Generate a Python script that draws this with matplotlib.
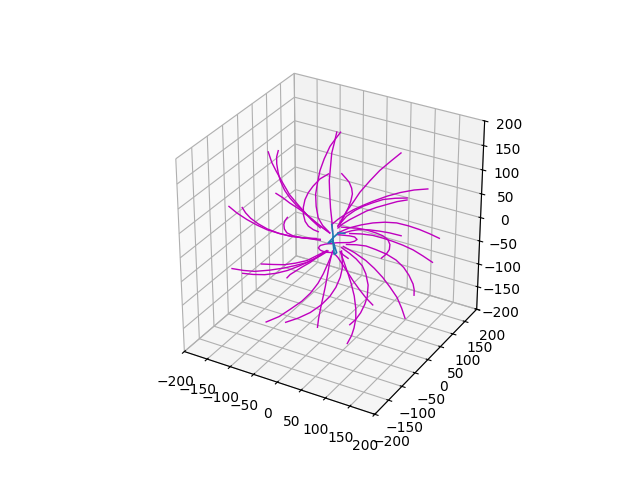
import matplotlib
matplotlib.use("Agg")
import matplotlib.pyplot as plt

# trajectories: each is (x values, y values, z values)
traj_a1 = ([12, 3, -5, -14, -21, -25, -28, -27, -24, -17, -8], [6, 2, -2, -7, -10, -12, -14, -14, -12, -8, -4], [215, 200, 186, 161, 137, 113, 88, 64, 40, 24, 13])
traj_a2 = ([6, 2, -2, -4, -6, -5, -4, -2, -1], [3, 1, -1, -2, -3, -3, -2, -1, 0], [215, 193, 173, 145, 117, 89, 61, 37, 13])
traj_b = ([-103, -98, -91, -81, -70, -56, -43, -29, -16, -5], [-52, -49, -46, -41, -35, -28, -21, -15, -8, -3], [172, 151, 134, 111, 86, 65, 46, 31, 19, 10])
traj_c = ([-87, -90, -90, -88, -85, -78, -70, -60, -48, -35, -21], [-44, -45, -45, -44, -42, -39, -35, -30, -24, -17, -10], [175, 162, 148, 131, 114, 95, 80, 66, 53, 35, 19])
traj_d = ([-7, -21, -32, -40, -45, -48, -48, -45, -40, -32, -24], [-4, -10, -16, -20, -23, -24, -24, -23, -20, -16, -12], [131, 120, 105, 91, 77, 61, 46, 32, 22, 15, 11])
traj_e = ([-92, -81, -70, -56, -43, -32, -21, -5], [-46, -40, -35, -28, -21, -16, -10, -3], [88, 79, 69, 58, 46, 35, 23, 9])
traj_f = ([108, 93, 75, 59, 43, 33, 22, 14, 8], [54, 46, 37, 30, 22, 16, 11, 7, 4], [177, 161, 141, 119, 95, 75, 55, 38, 24])
traj_g = ([14, 21, 26, 30, 31, 29, 25, 18, 11], [7, 10, 13, 15, 16, 14, 12, 9, 6], [132, 123, 115, 103, 91, 77, 63, 45, 27])
traj_h = ([152, 130, 108, 87, 65, 49, 33, 19, 8, -2], [76, 65, 54, 43, 32, 24, 16, 10, 4, -1], [106, 103, 97, 89, 78, 69, 59, 48, 38, 27])
traj_i = ([119, 100, 81, 65, 49, 35, 22, 8], [60, 50, 40, 32, 24, 18, 11, 4], [86, 85, 82, 75, 67, 57, 45, 24])
traj_j = ([119, 103, 87, 70, 54, 41, 27, 16, 8], [60, 52, 43, 35, 27, 20, 14, 8, 4], [82, 78, 72, 65, 57, 48, 38, 29, 20])
traj_k = ([173, 157, 140, 122, 103, 84, 65, 46, 27, 8], [86, 78, 70, 61, 52, 42, 32, 23, 14, 4], [5, 14, 22, 29, 34, 35, 33, 28, 21, 10])
traj_l = ([111, 92, 76, 60, 43, 30, 17], [55, 46, 38, 30, 22, 15, 8], [8, 13, 16, 18, 18, 15, 10])
traj_m = ([-169, -156, -140, -123, -107, -88, -70, -45, -21], [-84, -78, -70, -62, -54, -44, -35, -23, -10], [58, 45, 32, 21, 12, 5, 0, -3, -5])
traj_n = ([-147, -142, -134, -122, -107, -88, -70, -48, -27], [-74, -71, -67, -61, -54, -44, -35, -24, -14], [57, 46, 35, 24, 14, 5, 0, -3, -3])
traj_o = ([-74, -78, -80, -79, -75, -65, -54, -37, -21], [-37, -39, -40, -40, -38, -33, -27, -19, -10], [39, 32, 24, 15, 7, 1, -2, -4, -7])
traj_p = ([79, 87, 92, 93, 89, 81, 70, 54, 38, 14], [40, 44, 46, 46, 45, 40, 35, 27, 19, 7], [-41, -32, -22, -11, -1, 7, 12, 18, 21, 22])
traj_q = ([163, 147, 131, 114, 97, 81, 65, 46, 27], [81, 73, 65, 57, 48, 40, 32, 23, 14], [-46, -33, -21, -12, -4, 2, 7, 9, 9])
traj_r = ([134, 134, 132, 125, 116, 103, 87, 70, 54, 38, 22], [67, 67, 66, 62, 58, 52, 44, 35, 27, 19, 11], [-118, -106, -94, -75, -59, -44, -32, -23, -16, -14, -14])
traj_s = ([120, 114, 106, 94, 82, 68, 54, 35, 17], [60, 57, 53, 47, 41, 34, 27, 18, 8], [-169, -147, -124, -102, -82, -63, -47, -31, -18])
traj_t = ([66, 55, 44, 33, 22, 15, 8, 1], [33, 27, 22, 16, 11, 8, 4, 0], [-142, -127, -110, -90, -69, -56, -42, -32])
traj_u = ([28, 38, 46, 53, 57, 58, 54, 48, 38, 27, 14], [14, 19, 23, 26, 28, 29, 27, 24, 19, 14, 7], [-187, -175, -160, -141, -124, -99, -75, -58, -44, -33, -21])
traj_v = ([24, 31, 35, 38, 38, 35, 30, 25, 19, 12], [12, 16, 18, 19, 19, 18, 15, 12, 10, 6], [-229, -211, -194, -173, -152, -124, -97, -76, -56, -30])
traj_w = ([-26, -24, -21, -17, -13, -9, -6, -3, -1], [-13, -12, -10, -8, -6, -5, -3, -1, 0], [-195, -175, -154, -130, -106, -81, -57, -39, -29])
traj_x = ([-79, -58, -38, -20, -5, 5, 12, 15, 15, 14], [-40, -29, -19, -10, -3, 2, 6, 8, 8, 7], [-186, -176, -163, -146, -126, -106, -84, -66, -49, -28])
traj_y = ([-112, -90, -71, -52, -37, -25, -16, -9, -2], [-56, -45, -35, -26, -19, -12, -8, -4, -1], [-187, -174, -157, -139, -120, -99, -78, -57, -36])
traj_z = ([-167, -148, -129, -105, -80, -62, -43, -27, -10], [-83, -74, -65, -52, -40, -31, -21, -13, -5], [-73, -76, -77, -74, -68, -62, -55, -44, -29])
traj_aa = ([-149, -132, -113, -94, -75, -56, -37, -21, -8], [-75, -66, -56, -47, -38, -28, -19, -10, -4], [-82, -84, -84, -80, -73, -63, -51, -40, -29])
traj_ab = ([-118, -99, -80, -62, -43, -27, -10], [-59, -50, -40, -31, -21, -13, -5], [-61, -61, -61, -57, -51, -40, -28])
traj_ac = ([-76, -71, -64, -51, -37, -27, -16], [-38, -35, -32, -25, -19, -13, -8], [-89, -82, -76, -65, -54, -44, -33])
traj_loop = ([1, -13, -21, -24, -21, -13, 6, 27, 35, 39, 35, 27, 8], [0, -6, -10, -12, -10, -6, 3, 14, 18, 20, 18, 14, 4], [-32, -32, -28, -23, -18, -15, -11, -10, -7, -3, 2, 4, 6])
traj_stub = ([12, 17, 25], [6, 8, 12], [-30, -36, -43])

magenta_trajs = [traj_a1, traj_a2, traj_b, traj_c, traj_d, traj_e, traj_f, traj_g, traj_h, traj_i,
                 traj_j, traj_k, traj_l, traj_m, traj_n, traj_o, traj_p, traj_q, traj_r, traj_s,
                 traj_t, traj_u, traj_v, traj_w, traj_x, traj_y, traj_z, traj_aa, traj_ab, traj_ac,
                 traj_loop, traj_stub]

core_x = [-2, 0, 0, 2, 6, 0, -8, 0, 9, 19]
core_y = [-1, 0, 0, 1, 3, 0, -4, 0, 4, 10]
core_z = [27, 6, -8, -36, -32, -8, -12, -1, 10, 9]

limit_ticks = [-200, -150, -100, -50, 0, 50, 100, 150, 200]

fig = plt.figure(figsize=(6.4, 4.8), dpi=100)
ax = fig.add_subplot(projection="3d")
for tx, ty, tz in magenta_trajs:
    ax.plot(tx, ty, tz, color="m", linewidth=1.0)
ax.plot(core_x, core_y, core_z, color="tab:blue", linewidth=1.2)
ax.set_xlim(-200, 200)
ax.set_ylim(-200, 200)
ax.set_zlim(-200, 200)
ax.set_xticks(limit_ticks)
ax.set_yticks(limit_ticks)
ax.set_zticks(limit_ticks)
ax.set_aspect("equal")
fig.savefig("out.png", dpi=100)
